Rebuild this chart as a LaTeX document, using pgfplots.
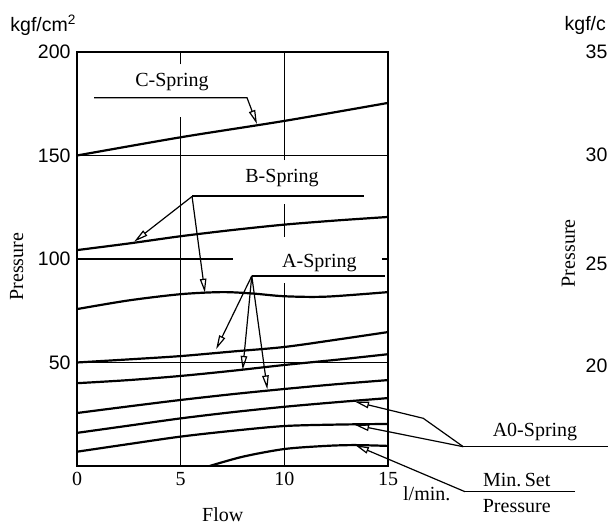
\documentclass[border=0pt]{standalone}
\usepackage{fontspec}
\setmainfont{Liberation Serif}
\setsansfont{Liberation Sans}
\usepackage{pgfplots}
\pgfplotsset{compat=1.18}
\usetikzlibrary{arrows.meta}

\begin{document}
\begin{tikzpicture}[font=\fontsize{20}{24}\selectfont,
  lead/.style={line width=1.2pt},
  tip/.style={lead, -{Triangle[open, length=14pt, width=6.5pt, line width=1.2pt]}},
  curve/.style={black, solid, line width=2.2pt, smooth, tension=0.5, mark=none},
  grid/.style={line width=1.5pt}]
\useasboundingbox (0,0) rectangle (608pt,526pt);
\clip (0,0) rectangle (608pt,526pt);
\begin{axis}[
  at={(77pt,60pt)}, anchor=south west,
  scale only axis, width=311pt, height=414pt,
  xmin=0, xmax=15, ymin=0, ymax=200,
  xtick={0,5,10,15}, ytick={50,100,150,200},
  major tick length=0pt,
  axis line style={line width=1.9pt},
  clip=false,
  /pgf/number format/assume math mode=true,
  xticklabel style={font=\fontsize{20}{24}\selectfont, yshift=-3pt},
  yticklabel style={font=\sffamily\fontsize{19.5}{23}\selectfont, xshift=-3pt},
]
% C-Spring
\addplot[curve] coordinates {(0,150) (5,158.8) (10,166.7) (15,175.4)};
% B-Spring
\addplot[curve] coordinates {(0,104.3) (2.5,107.5) (5,111) (7.5,114) (10,116.6) (12.5,118.6) (15,120.3)};
\addplot[curve] coordinates {(0,75.8) (2.5,80) (5,83) (7,84) (8.5,83.3) (10,82) (12,81.8) (15,84)};
% A-Spring
\addplot[curve] coordinates {(0,50) (2.5,51.5) (5,53.1) (7.5,55.3) (10,57.5) (12.5,61) (15,64.7)};
\addplot[curve] coordinates {(0,40) (2.5,41.5) (5,43.5) (7.5,46) (10,48.8) (12.5,51.3) (15,54)};
\addplot[curve] coordinates {(0,25.6) (2.5,28.8) (5,31.9) (7.5,34.7) (10,37.2) (12.5,39.5) (15,41.5)};
% A0-Spring
\addplot[curve] coordinates {(0,16) (2.5,19.5) (5,23) (7.5,26) (10,28.6) (12.5,30.8) (15,32.8)};
\addplot[curve] coordinates {(0,6.9) (2.5,10.6) (5,14.2) (7.5,17) (10,19.3) (12.5,20) (15,20.3)};
% Min. set pressure
\addplot[curve] coordinates {(6.4,0) (8,4.5) (10,8.2) (12,9.7) (13.4,10.1) (15,9.7)};

% grid lines
\draw[grid] (axis cs:5,0) -- (axis cs:5,168.7);
\draw[grid] (axis cs:5,194) -- (axis cs:5,200);
\draw[grid] (axis cs:10,0) -- (axis cs:10,88.4);
\draw[grid] (axis cs:10,110.7) -- (axis cs:10,126.7);
\draw[grid] (axis cs:10,147.8) -- (axis cs:10,200);
\draw[line width=1.7pt] (axis cs:0,150) -- (axis cs:15,150);
\draw[line width=1.2pt] (axis cs:0,100) -- (axis cs:7.5,100);
\draw[line width=1.4pt] (axis cs:0,50) -- (axis cs:15,50);
\draw[grid] (axis cs:14.7,100) -- (axis cs:15,100);

% C-Spring
\node at (axis cs:4.58,185.6) {C-Spring};
\draw[tip] (axis cs:0.82,177.9) -- (axis cs:8.2,177.9) -- (axis cs:8.68,165.2);
% B-Spring
\node at (axis cs:9.89,139) {B-Spring};
\draw[lead] (axis cs:5.55,130.4) -- (axis cs:13.83,130.4);
\draw[tip] (axis cs:5.55,130.2) -- (axis cs:2.76,108.4);
\draw[tip] (axis cs:5.55,130.2) -- (axis cs:6.17,83.7);
% A-Spring
\node at (axis cs:11.69,98.2) {A-Spring};
\draw[lead] (axis cs:8.43,91.8) -- (axis cs:14.86,91.8);
\draw[tip] (axis cs:8.43,91.8) -- (axis cs:6.71,56.4);
\draw[tip] (axis cs:8.43,91.8) -- (axis cs:7.99,46.4);
\draw[tip] (axis cs:8.43,91.8) -- (axis cs:9.18,37.0);
% A0-Spring
\node at (axis cs:22.09,16.6) {A0-Spring};
\draw[lead] (axis cs:18.63,9.32) -- (axis cs:26,9.32);
\draw[tip] (axis cs:18.63,9.32) -- (axis cs:16.7,23.04) -- (axis cs:13.41,31.06);
\draw[tip] (axis cs:18.63,9.32) -- (axis cs:13.41,19.81);
% Min. set pressure
\node at (axis cs:21.21,-6.8) {Min.\,Set};
\node at (axis cs:21.21,-19.3) {Pressure};
\draw[lead] (axis cs:24.02,-12.4) -- (axis cs:18.71,-12.4);
\draw[tip] (axis cs:18.71,-12.4) -- (axis cs:13.41,10.14);

% axis texts
\node at (axis cs:16.87,-13.2) {l/min.};
\node at (axis cs:7.03,-23.7) {Flow};
\node[rotate=90] at (axis cs:-2.91,96.3) {Pressure};
\node[font=\sffamily\fontsize{19.5}{23}\selectfont] at (axis cs:-1.63,213) {kgf/cm\textsuperscript{2}};
\end{axis}

% edge of the neighbouring chart
\begin{scope}[every node/.style={anchor=west, inner sep=0pt, font=\sffamily\fontsize{19.5}{23}\selectfont}]
\node at (564.5pt,501pt) {kgf/c};
\node at (585.5pt,474.3pt) {35};
\node at (585.5pt,371pt) {30};
\node at (585.5pt,262.7pt) {25};
\node at (585.5pt,160.3pt) {20};
\end{scope}
\node[rotate=90] at (568.3pt,272.7pt) {Pressure};
\end{tikzpicture}
\end{document}
